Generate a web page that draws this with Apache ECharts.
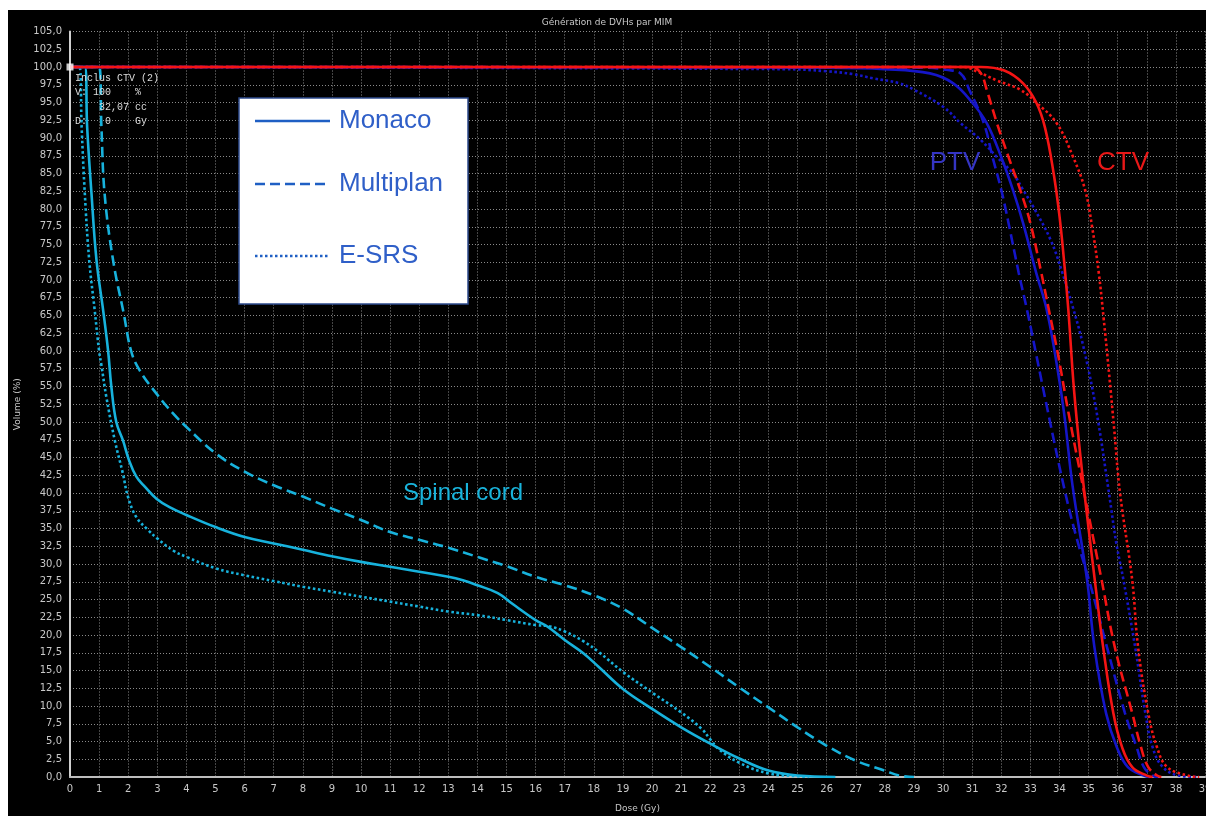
<!DOCTYPE html>
<html><head><meta charset="utf-8">
<script src="https://cdn.jsdelivr.net/npm/echarts/dist/echarts.min.js"></script>
<style>
html,body{margin:0;padding:0;background:#fff;width:1206px;height:816px;overflow:hidden}
#c{position:absolute;left:8px;top:10px;width:1198px;height:806px;background:#000}
</style>
</head><body><div id="c"></div>
<script>
// ---- Data (dose in Gy, volume in %) ----
const cordMonaco = [[0,100],[0.51,100],[0.59,91.5],[0.74,82.1],[0.91,72.8],[1.14,65.7],[1.31,60],[1.42,55],[1.59,50],[1.82,47.4],[2.03,44.6],[2.28,42.3],[2.57,40.9],[2.97,39.2],[3.42,38.0],[4.0,36.9],[5.0,35.2],[6.0,33.8],[7.0,32.9],[8.0,32.0],[9.0,31.1],[10.0,30.3],[11.0,29.6],[12.0,28.9],[13.0,28.2],[13.5,27.7],[14.0,27.0],[14.7,25.9],[15.2,24.4],[16.0,22.1],[16.4,21.2],[17.0,19.3],[17.65,17.4],[18.17,15.5],[19.0,12.4],[20.0,9.6],[21.0,7.0],[22.0,4.7],[23.0,2.6],[24.0,0.9],[25.0,0.2],[26.3,0]];
const cordMultiplan = [[0,100],[1.0,100],[1.08,91.5],[1.19,82.1],[1.48,72.8],[1.85,65.2],[2.1,60],[2.39,57.3],[2.97,54.0],[3.54,51.2],[4.0,49.3],[5.0,45.6],[6.0,43.0],[7.0,41.1],[8.0,39.5],[9.0,37.8],[10.0,36.2],[11.0,34.5],[12.0,33.4],[13.0,32.3],[14.0,31.0],[15.0,29.7],[16.0,28.2],[17.0,27.0],[18.0,25.6],[19.0,23.7],[20.0,21.0],[21.0,18.3],[22.0,15.5],[23.0,12.6],[24.0,9.8],[25.0,7.0],[26.0,4.4],[27.0,2.3],[28.0,0.9],[28.5,0.2],[29.0,0]];
const cordESRS = [[0,100],[0.32,100],[0.40,91.5],[0.51,82.1],[0.66,72.8],[0.85,65.7],[1.0,60],[1.08,58],[1.25,53.5],[1.54,47.4],[1.82,42.7],[1.99,39.5],[2.28,36.6],[2.68,34.8],[3.0,33.6],[3.54,31.9],[4.0,31.0],[5.0,29.4],[6.0,28.4],[7.0,27.6],[8.0,26.8],[9.0,26.1],[10.0,25.4],[11.0,24.7],[12.0,24.0],[13.0,23.3],[14.0,22.8],[15.0,22.1],[16.0,21.4],[16.5,21.2],[17.0,20.5],[17.65,19.1],[18.17,17.6],[19.0,14.8],[20.0,11.9],[21.0,9.1],[21.7,6.8],[22.0,5.3],[22.3,3.9],[23.0,2.0],[24.0,0.5],[25.0,0.1],[25.4,0]];

const ptvMonaco = [[0,100],[26,99.9],[28,99.7],[29.55,99.1],[30.35,97.7],[31.0,95],[31.5,92.1],[32.0,87.3],[32.4,82.7],[32.75,78],[33.2,71],[33.55,66],[33.85,59.5],[34.15,51.5],[34.45,41],[34.95,27.7],[35.2,18.3],[35.6,9],[35.97,4.2],[36.35,1.4],[36.9,0.2],[37.1,0]];
const ptvMultiplan = [[0,100],[29.5,99.9],[30.1,99.6],[30.6,99.1],[30.9,96.8],[31.4,92.1],[31.7,87.3],[32.0,82.7],[32.25,78],[32.6,71],[32.9,65.5],[33.2,59.5],[33.6,51.5],[34.2,40],[34.6,33.5],[35.1,26.5],[35.65,18.0],[36.25,9],[36.65,4.2],[36.9,1.4],[37.2,0.2],[37.4,0]];
const ptvESRS = [[0,100],[24.5,99.7],[26.0,99.4],[26.9,99],[27.6,98.4],[28.5,97.7],[29.0,96.8],[30.0,94.4],[30.6,92.1],[31.3,89.7],[31.85,87.3],[32.4,85],[32.75,82.7],[33.1,80.3],[33.7,75.6],[34.1,71],[34.45,66.3],[34.8,61],[35.25,52],[35.7,40],[35.95,33],[36.2,27.7],[36.6,18.3],[36.95,9],[37.2,4.2],[37.55,1.4],[38.1,0.2],[38.7,0]];

const ctvMonaco = [[0,100],[31.3,100],[32.1,99.5],[32.75,97.7],[33.2,95],[33.5,91.5],[33.8,85],[34.0,79],[34.15,73],[34.3,66],[34.5,54.5],[34.75,44],[35.0,35],[35.25,26.5],[35.5,18.3],[35.85,9],[36.15,4.2],[36.5,1.4],[37.0,0.2],[37.2,0]];
const ctvMultiplan = [[0,100],[31.0,100],[31.3,99.1],[31.5,96.8],[31.85,92.1],[32.25,87.3],[32.65,82.7],[33.0,78],[33.35,71.5],[33.65,65.5],[33.95,59.5],[34.3,51.5],[34.85,40],[35.45,27.7],[35.9,18.3],[36.5,9],[36.8,4.2],[37.05,1.4],[37.35,0.2],[37.5,0]];
const ctvESRS = [[0,100],[30.7,100],[31.2,99.3],[31.85,98.1],[32.65,96.8],[33.2,95],[33.9,92.1],[34.47,87.3],[34.88,82.7],[35.12,77.5],[35.35,71],[35.52,64.5],[35.7,57],[35.88,49],[36.08,40],[36.5,27.7],[36.7,18.3],[37.05,9],[37.35,4.2],[37.7,1.4],[38.4,0.2],[38.8,0]];

const cursorPoint = [[0,100]];
const legendNames = ['Monaco','Multiplan','E-SRS'];
const doseMin = 0, doseMax = 39, doseStep = 1;
const volMin = 0, volMax = 105, volStep = 2.5;

const CYAN = '#17b2dc', BLUE = '#1515c8', RED = '#f51414';
const LEG = '#1f5fc4';

function curve(name, data, color, type, z) {
  return { name, type:'line', data, z, symbol:'none', smooth:0.4,
    lineStyle:{ color, width:2.6, type }, itemStyle:{color}, silent:true, animation:false };
}

const series = [
  curve('Spinal cord Monaco', cordMonaco, CYAN, 'solid', 2),
  curve('Spinal cord Multiplan', cordMultiplan, CYAN, 'dashed', 2),
  curve('Spinal cord E-SRS', cordESRS, CYAN, 'dotted', 2),
  curve('PTV Monaco', ptvMonaco, BLUE, 'solid', 3),
  curve('PTV Multiplan', ptvMultiplan, BLUE, 'dashed', 3),
  curve('PTV E-SRS', ptvESRS, BLUE, 'dotted', 3),
  curve('CTV Monaco', ctvMonaco, RED, 'solid', 4),
  curve('CTV Multiplan', ctvMultiplan, RED, 'dashed', 4),
  curve('CTV E-SRS', ctvESRS, RED, 'dotted', 4),
  { name:'cursor', type:'scatter', data:cursorPoint, symbol:'rect', symbolSize:7, z:10,
    itemStyle:{color:'#fff'}, silent:true, animation:false }
];

const labelFont = { color:'#c8c8c8', fontSize:10, fontFamily:'DejaVu Sans' };

// legend box drawn as graphic (box at page 239,98 -> div 231,88)
const legendRowY = [111, 174, 246];
const legendDash = [null, [10,5], [2.5,2.5]];
const legendGraphic = [
  { type:'rect', shape:{x:231, y:88, width:229, height:206}, z:30, silent:true,
    style:{ fill:'#fff', stroke:'#2c4a8c', lineWidth:1.5 } }
];
legendNames.forEach((n,i)=>{
  legendGraphic.push({ type:'line', z:31, silent:true,
    shape:{ x1:247, y1:legendRowY[i], x2:322, y2:legendRowY[i] },
    style:{ stroke:LEG, lineWidth:2.5, lineDash:legendDash[i] } });
  legendGraphic.push({ type:'text', z:31, silent:true, x:331, y:legendRowY[i],
    style:{ text:n, fill:'#2f5fc8', font:'26px "Liberation Sans"', align:'left', verticalAlign:'middle' } });
});

const chart = echarts.init(document.getElementById('c'), null, {renderer:'canvas'});
chart.setOption({
  backgroundColor:'#000',
  animation:false,
  title:{ text:'Génération de DVHs par MIM', left:'center', top:3,
    textStyle:{ color:'#c8c8c8', fontSize:9, fontWeight:'normal', fontFamily:'DejaVu Sans' } },
  grid:{ left:62, right:1, top:21.5, bottom:39, containLabel:false, outerBoundsMode:'none' },
  xAxis:{ type:'value', min:doseMin, max:doseMax, interval:doseStep,
    name:'Dose (Gy)', nameLocation:'middle', nameGap:27,
    nameTextStyle:{ color:'#c8c8c8', fontSize:9, fontFamily:'DejaVu Sans' },
    axisLine:{ show:true, onZero:false, lineStyle:{ color:'#bdbdbd', width:2 } },
    axisTick:{ show:false },
    axisLabel:{ ...labelFont, margin:7, showMaxLabel:true },
    splitLine:{ show:true, lineStyle:{ color:'#8a8a8a', type:[1,2], width:1 } } },
  yAxis:{ type:'value', min:volMin, max:volMax, interval:volStep,
    name:'Volume (%)', nameLocation:'middle', nameGap:43, nameRotate:90,
    nameTextStyle:{ color:'#c8c8c8', fontSize:9, fontFamily:'DejaVu Sans' },
    axisLine:{ show:true, lineStyle:{ color:'#d0d0d0', width:2 } },
    axisTick:{ show:false },
    axisLabel:{ ...labelFont, margin:8, formatter:v=>v.toFixed(1).replace('.',',') },
    splitLine:{ show:true, lineStyle:{ color:'#8a8a8a', type:[1,2], width:1 } } },
  graphic:[
    ...legendGraphic,
    { type:'text', x:947, y:153, silent:true, z:20,
      style:{ text:'PTV', fill:'#3535c4', font:'26px "Liberation Sans"', align:'center', verticalAlign:'middle' } },
    { type:'text', x:1115, y:153, silent:true, z:20,
      style:{ text:'CTV', fill:'#e81818', font:'26px "Liberation Sans"', align:'center', verticalAlign:'middle' } },
    { type:'text', x:455, y:483, silent:true, z:20,
      style:{ text:'Spinal cord', fill:'#19b4dc', font:'24px "Liberation Sans"', align:'center', verticalAlign:'middle' } },
    { type:'text', x:67, y:61, silent:true, z:20,
      style:{ text:'Inclus CTV (2)\nV: 100    %\n    32,07 cc\nD:   0    Gy', fill:'#dcdcdc',
        font:'10px "Liberation Mono"', lineHeight:14.5, align:'left', verticalAlign:'top' } }
  ],
  series
});
</script></body></html>
